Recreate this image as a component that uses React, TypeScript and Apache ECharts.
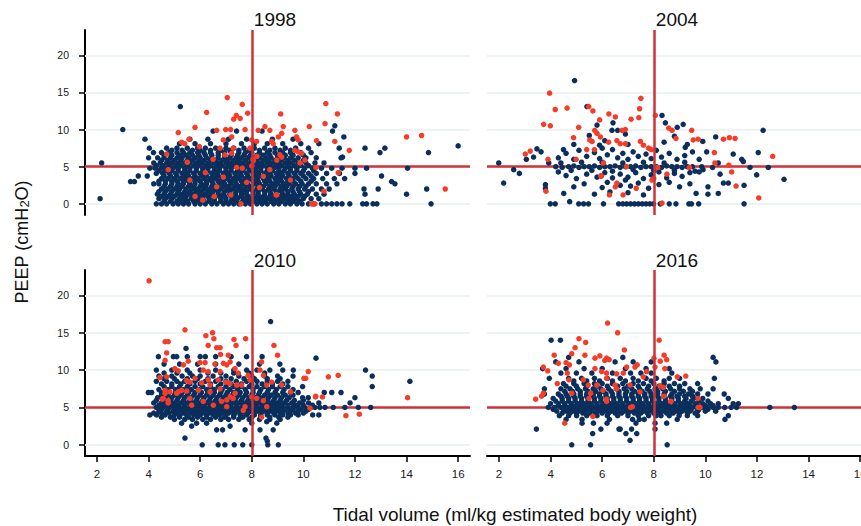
import React, { useEffect, useRef } from "react";
import * as echarts from "echarts";

type Row = [number, number[]];
type Pt = [number, number];

const panelTitles = ["1998", "2004", "2010", "2016"];
const xTicks = [2, 4, 6, 8, 10, 12, 14, 16];
const yTicks = [0, 5, 10, 15, 20];
const refX = 8;
const refY = 5;

// ---- 1998 ----
const navy1998Rows: Row[] = [
  [0, [4.3, 4.5, 4.7, 4.95, 5.15, 5.35, 5.55, 5.8, 6.0, 6.2, 6.45, 6.65, 6.9, 7.1, 7.3, 7.5, 7.75, 7.95, 8.2, 8.4, 8.6, 8.85, 9.05, 9.3, 9.5, 9.75, 9.95, 10.2, 10.4, 10.7, 10.9, 11.1, 11.3, 11.5, 11.8, 12.3, 12.45, 12.7, 12.85, 14.95]],
  [0.35, [4.6, 4.85, 5.1, 5.3, 5.5, 5.75, 5.95, 6.15, 6.35, 6.55, 6.8, 7.0, 7.2, 7.4, 7.65, 7.85, 8.05, 8.3, 8.5, 8.75, 8.95, 9.15, 9.4, 9.6, 9.85]],
  [0.7, [2.12, 4.4, 4.65, 4.9, 5.2, 5.4, 5.65, 5.9, 6.1, 6.35, 6.55, 6.8, 7.0, 7.25, 7.45, 7.7, 7.9, 8.15, 8.35, 8.6, 8.8, 9.05, 9.25, 9.5, 9.7, 10.0, 10.3, 10.6]],
  [1.0, [4.5, 4.75, 5.0, 5.25, 5.45, 5.7, 5.9, 6.1, 6.3, 6.55, 6.75, 6.95, 7.2, 7.4, 7.6, 7.85, 8.05, 8.25, 8.45, 8.7, 8.9, 9.1, 9.35, 9.55, 9.8, 10.05]],
  [1.3, [4.34, 4.6, 4.85, 5.1, 5.3, 5.55, 5.75, 6.0, 6.2, 6.45, 6.7, 6.9, 7.15, 7.35, 7.6, 7.8, 8.05, 8.25, 8.5, 8.75, 8.95, 9.2, 9.4, 9.65, 9.9, 10.15, 10.5, 10.8, 12.39, 14.0]],
  [1.65, [4.4, 4.65, 4.9, 5.15, 5.4, 5.6, 5.85, 6.05, 6.3, 6.5, 6.7, 6.95, 7.15, 7.4, 7.6, 7.8, 8.05, 8.25, 8.5, 8.7, 8.95, 9.15, 9.4, 9.6, 9.85, 10.2]],
  [2.0, [4.5, 4.75, 5.0, 5.2, 5.45, 5.7, 5.9, 6.15, 6.35, 6.6, 6.8, 7.05, 7.25, 7.5, 7.7, 7.95, 8.2, 8.4, 8.65, 8.85, 9.1, 9.3, 9.55, 9.8, 10.05, 10.35, 10.7, 11.0, 12.35, 12.9, 14.78]],
  [2.35, [4.6, 4.85, 5.1, 5.3, 5.55, 5.75, 6.0, 6.2, 6.45, 6.65, 6.9, 7.1, 7.35, 7.55, 7.8, 8.0, 8.25, 8.45, 8.7, 8.9, 9.15, 9.35, 9.6, 9.85, 10.1]],
  [2.7, [4.2, 4.4, 4.65, 4.9, 5.15, 5.35, 5.6, 5.8, 6.05, 6.25, 6.5, 6.75, 6.95, 7.2, 7.4, 7.65, 7.85, 8.1, 8.3, 8.55, 8.8, 9.0, 9.25, 9.45, 9.7, 9.95, 10.2, 10.5, 10.9, 11.3, 13.55]],
  [3.0, [3.3, 3.45, 13.42]],
  [3.05, [4.4, 4.65, 4.9, 5.1, 5.35, 5.55, 5.8, 6.0, 6.25, 6.45, 6.7, 6.9, 7.15, 7.35, 7.6, 7.8, 8.05, 8.25, 8.5, 8.7, 8.95, 9.15, 9.4, 9.6, 9.9, 10.3]],
  [3.4, [4.5, 4.75, 5.0, 5.25, 5.45, 5.7, 5.9, 6.15, 6.4, 6.6, 6.85, 7.05, 7.3, 7.5, 7.75, 7.95, 8.2, 8.45, 8.65, 8.9, 9.1, 9.35, 9.6, 9.8, 10.1, 10.4, 10.75, 11.2, 11.6]],
  [3.75, [3.6, 3.95, 4.6, 4.85, 5.1, 5.35, 5.55, 5.8, 6.05, 6.25, 6.5, 6.7, 6.95, 7.15, 7.4, 7.6, 7.85, 8.1, 8.3, 8.55, 8.75, 9.0, 9.2, 9.45, 9.7, 10.0, 10.3, 13.03]],
  [4.1, [4.3, 4.55, 4.8, 5.05, 5.3, 5.5, 5.75, 6.0, 6.2, 6.45, 6.65, 6.9, 7.1, 7.35, 7.55, 7.8, 8.05, 8.25, 8.5, 8.7, 8.95, 9.15, 9.4, 9.65, 9.9, 10.2, 10.5, 10.9, 11.4, 12.0]],
  [4.45, [4.4, 4.65, 4.9, 5.15, 5.4, 5.6, 5.85, 6.1, 6.3, 6.55, 6.75, 7.0, 7.2, 7.45, 7.65, 7.9, 8.15, 8.35, 8.6, 8.8, 9.05, 9.25, 9.5, 9.75, 10.0, 10.4]],
  [4.8, [4.05, 4.25, 4.5, 4.7, 4.95, 5.15, 5.4, 5.6, 5.85, 6.1, 6.3, 6.55, 6.75, 7.0, 7.2, 7.45, 7.7, 7.9, 8.15, 8.35, 8.6, 8.85, 9.05, 9.3, 9.5, 9.75, 10.05, 10.35, 10.7, 11.1, 11.5, 12.0, 12.45, 14.04]],
  [5.15, [4.3, 4.55, 4.8, 5.05, 5.25, 5.5, 5.75, 5.95, 6.2, 6.4, 6.65, 6.85, 7.1, 7.3, 7.55, 7.8, 8.0, 8.25, 8.45, 8.7, 8.95, 9.15, 9.4, 9.65, 9.9, 10.2]],
  [5.5, [2.18, 4.2, 4.45, 4.7, 4.9, 5.15, 5.4, 5.6, 5.85, 6.05, 6.3, 6.55, 6.75, 7.0, 7.2, 7.45, 7.65, 7.9, 8.15, 8.35, 8.6, 8.8, 9.05, 9.3, 9.5, 9.8, 10.1, 10.45, 10.8]],
  [5.85, [4.5, 4.75, 5.0, 5.25, 5.5, 5.7, 5.95, 6.15, 6.4, 6.6, 6.85, 7.05, 7.3, 7.5, 7.75, 8.0, 8.2, 8.45, 8.65, 8.9, 9.15, 9.4, 9.65, 10.0]],
  [6.2, [4.0, 4.35, 4.6, 4.85, 5.1, 5.3, 5.55, 5.8, 6.0, 6.25, 6.45, 6.7, 6.95, 7.15, 7.4, 7.6, 7.85, 8.1, 8.3, 8.55, 8.75, 9.0, 9.25, 9.5, 9.8, 10.1, 10.5, 11.46]],
  [6.55, [4.6, 4.9, 5.2, 5.45, 5.7, 5.95, 6.2, 6.45, 6.7, 6.95, 7.2, 7.45, 7.7, 7.95, 8.2, 8.45, 8.7, 9.0, 9.3, 9.6, 10.0]],
  [6.9, [4.19, 4.5, 4.8, 5.1, 5.35, 5.6, 5.9, 6.15, 6.4, 6.7, 6.95, 7.2, 7.5, 7.75, 8.0, 8.3, 8.6, 8.9, 9.2, 9.5, 9.9, 10.3, 12.97, 14.85]],
  [7.2, [4.9, 5.3, 5.7, 6.0, 6.4, 6.8, 7.15, 7.5, 7.9, 8.3, 8.7, 9.1, 9.5]],
  [7.5, [4.03, 4.7, 5.1, 5.5, 5.9, 6.2, 6.6, 7.0, 7.3, 7.7, 8.1, 8.5, 8.9, 9.3, 9.7, 10.2, 11.39, 12.39, 13.16]],
  [8.1, [5.2, 5.8, 6.4, 7.0, 7.6, 8.1, 8.6, 9.2, 9.9, 10.6]],
  [8.7, [3.86, 5.6, 6.3, 7.1, 7.8, 8.8, 9.6]],
  [9.8, [6.5, 7.41, 8.4, 11.13]],
];
const navy1998Extra: Pt[] = [[3.0, 10.0], [5.23, 13.1], [11.22, 10.5], [11.57, 9.0], [16.0, 7.8], [11.52, 6.3]];
const red1998: Pt[] = [
  [7.05, 14.3], [7.63, 13.4], [6.25, 12.3], [7.4, 11.9], [7.55, 11.5], [7.3, 11.4], [7.84, 12.2], [5.8, 10.3], [5.15, 9.6], [5.28, 8.3],
  [5.4, 8.1], [5.57, 8.7], [6.64, 9.9], [6.99, 10.0], [7.18, 10.0], [7.74, 10.0], [4.7, 6.7], [4.76, 4.6], [5.8, 1.0], [6.55, 1.0],
  [6.64, 2.3], [7.19, 1.2], [7.58, 0], [7.8, 2.9], [7.41, 4.9], [7.63, 4.8], [8.0, 5.1], [8.06, 5.8], [8.45, 3.7], [8.7, 4.6],
  [8.97, 1.2], [7.93, 7.5], [8.25, 9.9], [8.51, 10.4], [8.7, 9.9], [8.0, 8.6], [8.19, 8.4], [6.77, 7.5], [6.96, 6.6], [7.22, 6.8],
  [7.28, 7.5], [5.97, 7.7], [6.9, 8.6], [7.22, 9.0], [8.77, 8.4], [9.03, 9.0], [9.16, 9.5], [9.22, 10.4], [9.12, 12.1], [9.16, 6.3],
  [8.97, 5.9], [8.2, 6.4], [8.05, 6.0], [9.67, 9.9], [9.74, 9.0], [9.8, 8.6], [10.23, 10.4], [10.84, 10.8], [11.22, 8.4], [11.78, 7.2],
  [10.51, 8.5], [9.67, 7.2], [9.8, 7.0], [9.93, 6.8], [10.06, 5.9], [9.87, 5.5], [8.83, 8.1], [9.09, 6.6], [10.49, 4.9], [11.35, 4.2],
  [10.8, 1.7], [10.32, 0], [10.45, 0], [8.94, 1.2], [14.0, 9.0], [14.58, 9.2], [15.5, 2.0], [10.87, 13.5], [11.32, 12.1], [6.5, 6.0],
  [6.2, 4.2], [5.6, 3.2], [6.9, 3.6], [5.5, 5.6], [9.5, 3.2], [8.3, 2.2], [6.1, 0.5],
];

// ---- 2004 ----
const navy2004: Pt[] = [
  [3.99, 0], [4.18, 0], [5.09, 0], [5.28, 0], [5.47, 0], [6.05, 0], [6.64, 0], [6.8, 0], [6.95, 0], [7.1, 0], [7.25, 0], [7.4, 0], [7.55, 0],
  [7.7, 0], [7.85, 0], [7.99, 0], [8.25, 0], [8.6, 0], [8.86, 0], [9.36, 0], [9.46, 0], [9.74, 0], [11.5, 0], [4.74, 0.3],
  [4.51, 1.4], [5.7, 1.3], [6.3, 1.6], [7.0, 1.5], [7.6, 1.2], [9.64, 1.4], [10.5, 1.4], [10.1, 1.3],
  [2.18, 2.8], [3.8, 2.6], [3.8, 2.1], [4.9, 2.3], [5.3, 2.7], [6.0, 2.2], [6.2, 2.9], [6.7, 2.5], [7.1, 2.4], [7.4, 2.8], [7.8, 2.1],
  [8.2, 2.6], [8.6, 2.9], [9.0, 2.3], [10.1, 2.3], [10.7, 2.8], [10.89, 2.8], [11.5, 2.5], [9.4, 2.7],
  [2.79, 4.1], [4.6, 3.8], [5.0, 3.4], [5.4, 4.0], [5.8, 3.6], [6.1, 4.2], [6.4, 3.5], [6.7, 4.0], [7.0, 3.6], [7.3, 4.2], [7.6, 3.4],
  [7.9, 3.9], [8.2, 4.3], [8.5, 3.5], [8.8, 4.1], [9.1, 3.7], [9.4, 4.2], [9.76, 4.3], [10.57, 4.0], [11.99, 3.9], [13.05, 3.3], [4.3, 4.3], [6.9, 3.2],
  [1.99, 5.5], [2.57, 4.6], [3.93, 5.5], [4.2, 5.0], [4.45, 4.9], [4.7, 5.0], [4.9, 5.1], [5.1, 4.9], [5.3, 5.0], [5.5, 5.0], [5.7, 5.1],
  [5.9, 4.9], [6.1, 5.0], [6.3, 5.0], [6.5, 5.1], [6.7, 4.9], [6.9, 5.0], [7.1, 5.0], [7.3, 5.1], [7.5, 4.9], [7.7, 5.0], [7.9, 5.0],
  [8.1, 5.0], [8.3, 4.9], [8.5, 5.1], [8.7, 5.0], [8.9, 5.0], [9.1, 4.9], [9.3, 5.0], [9.5, 5.0], [9.86, 5.0], [9.91, 4.6], [10.28, 4.9],
  [10.5, 5.5], [11.73, 4.9], [12.44, 4.9], [4.4, 5.5], [5.2, 5.6], [6.0, 5.6], [6.8, 5.5], [7.6, 5.6], [8.4, 5.5], [9.2, 5.6],
  [4.8, 4.5], [5.6, 4.5], [6.4, 4.4], [7.2, 4.6], [8.0, 4.5], [8.8, 4.5], [9.6, 4.4],
  [3.06, 6.0], [3.34, 6.3], [3.47, 7.4], [3.63, 7.0], [4.3, 6.2], [4.6, 6.8], [4.9, 6.0], [5.1, 7.2], [5.4, 6.4], [5.7, 6.9], [5.9, 6.1],
  [6.2, 6.6], [6.4, 7.3], [6.6, 6.2], [6.8, 6.8], [7.0, 6.0], [7.2, 7.0], [7.4, 6.4], [7.7, 6.7], [7.9, 6.1], [8.1, 7.2], [8.3, 6.3],
  [8.6, 6.8], [8.9, 6.0], [9.2, 6.5], [9.5, 7.0], [9.76, 6.0], [10.05, 7.0], [11.08, 6.7], [11.41, 6.0], [11.47, 5.7], [12.05, 6.9],
  [9.22, 7.6], [4.5, 7.3], [6.0, 7.5], [4.9, 8.0], [5.9, 7.9], [6.1, 8.5], [7.0, 8.0], [8.4, 8.3], [8.8, 9.1], [9.3, 8.0], [9.9, 8.4],
  [10.4, 9.0], [5.5, 9.2], [6.9, 9.4], [6.38, 9.9], [6.6, 9.9], [4.93, 16.6], [5.41, 13.1], [5.8, 10.6], [6.42, 10.9], [8.32, 11.9],
  [8.45, 10.9], [8.91, 10.3], [9.14, 10.7], [12.24, 9.9],
];
const red2004: Pt[] = [
  [3.96, 14.9], [4.18, 12.7], [4.64, 12.9], [3.73, 10.7], [3.99, 10.5], [3.02, 6.7], [3.21, 7.1], [3.9, 6.0], [3.82, 1.7], [5.09, 10.3],
  [4.89, 8.9], [4.99, 6.0], [5.48, 13.1], [5.64, 12.5], [5.9, 11.3], [5.71, 9.9], [5.8, 9.5], [5.93, 9.0], [5.52, 8.6], [5.61, 8.4],
  [5.4, 7.3], [5.7, 7.3], [6.26, 12.1], [6.51, 11.7], [6.25, 8.3], [6.57, 8.5], [6.7, 8.1], [6.9, 8.1], [6.77, 9.9], [6.9, 10.0],
  [7.12, 11.4], [7.42, 11.6], [7.45, 12.8], [7.5, 14.2], [7.48, 8.4], [7.6, 7.9], [7.8, 7.5], [7.9, 7.3], [8.06, 11.9], [6.05, 5.5],
  [5.96, 3.7], [6.51, 2.3], [6.57, 2.8], [6.94, 5.0], [7.32, 2.1], [6.81, 1.2], [6.28, 1.2], [7.93, 3.2], [8.0, 3.4], [8.15, 4.9],
  [8.51, 4.0], [8.32, 0.1], [8.58, 10.2], [8.71, 9.9], [8.86, 8.8], [9.47, 9.9], [9.53, 8.6], [9.72, 8.7], [10.7, 8.7], [10.93, 8.9],
  [11.15, 8.8], [10.35, 6.9], [10.37, 5.5], [10.91, 5.2], [11.02, 4.3], [11.19, 2.4], [12.61, 6.4], [12.07, 0.8], [9.38, 4.9], [5.95, 3.8],
];

// ---- 2010 ----
const navy2010Rows: Row[] = [
  [0, [6.08, 6.7, 6.96, 7.32, 7.65, 8.0, 8.62, 9.03]],
  [0.9, [5.41, 8.55]],
  [0.5, [8.6]],
  [2.0, [6.64, 6.87, 7.74, 8.32, 8.83]],
  [2.5, [5.67, 7.16]],
  [2.9, [5.28, 5.86, 6.25, 8.0, 8.97]],
  [3.1, [8.58]],
  [3.4, [5.0, 5.4, 5.7, 6.1, 6.4, 6.8, 7.1, 7.5, 7.9, 8.3, 8.7, 9.1]],
  [3.7, [4.5, 4.85, 5.2, 5.55, 5.9, 6.25, 6.6, 6.95, 7.3, 7.65, 8.0, 8.35, 8.7, 9.05, 9.4]],
  [4.0, [4.05, 4.31, 4.64, 5.0, 5.22, 5.48, 5.75, 6.0, 6.25, 6.5, 6.75, 7.0, 7.3, 7.55, 7.8, 8.1, 8.35, 8.6, 8.9, 9.2, 9.5, 9.8, 10.36, 10.6]],
  [4.25, [4.2, 4.5, 4.8, 5.1, 5.35, 5.6, 5.85, 6.1, 6.35, 6.6, 6.85, 7.1, 7.35, 7.6, 7.85, 8.1, 8.35, 8.6, 8.85, 9.1, 9.4, 9.7, 10.0]],
  [4.5, [4.4, 4.7, 4.95, 5.2, 5.45, 5.7, 5.95, 6.2, 6.45, 6.7, 6.95, 7.2, 7.45, 7.7, 7.95, 8.2, 8.45, 8.7, 8.95, 9.2, 9.5, 9.8, 10.1]],
  [4.75, [4.5, 4.75, 5.05, 5.3, 5.55, 5.8, 6.05, 6.3, 6.55, 6.8, 7.05, 7.3, 7.55, 7.8, 8.05, 8.3, 8.55, 8.8, 9.05, 9.3, 9.6, 9.9, 10.2]],
  [5.0, [4.3, 4.55, 4.8, 5.0, 5.2, 5.4, 5.6, 5.8, 6.0, 6.2, 6.4, 6.6, 6.8, 7.0, 7.2, 7.4, 7.6, 7.8, 8.0, 8.2, 8.4, 8.6, 8.8, 9.0, 9.2, 9.4, 9.6, 9.8, 10.05, 10.3, 10.45, 10.64, 10.84, 11.16, 11.61, 12.13, 12.61]],
  [5.3, [4.4, 4.65, 4.9, 5.15, 5.4, 5.65, 5.9, 6.15, 6.4, 6.65, 6.9, 7.15, 7.4, 7.65, 7.9, 8.15, 8.4, 8.65, 8.9, 9.15, 9.4, 9.7, 10.0, 10.35]],
  [5.6, [4.2, 4.5, 4.75, 5.0, 5.25, 5.5, 5.75, 6.0, 6.25, 6.5, 6.75, 7.0, 7.25, 7.5, 7.75, 8.0, 8.25, 8.5, 8.75, 9.0, 9.25, 9.55, 9.85, 10.2, 10.6, 11.81]],
  [5.95, [4.3, 4.6, 4.85, 5.1, 5.35, 5.6, 5.85, 6.1, 6.35, 6.6, 6.85, 7.1, 7.35, 7.6, 7.85, 8.1, 8.35, 8.6, 8.85, 9.1, 9.35, 9.65, 10.0]],
  [6.3, [4.35, 4.65, 4.9, 5.15, 5.4, 5.65, 5.9, 6.15, 6.4, 6.65, 6.9, 7.15, 7.4, 7.65, 7.9, 8.15, 8.4, 8.65, 8.9, 9.15, 9.45, 9.97, 10.19, 12.0]],
  [6.65, [4.5, 4.75, 5.0, 5.25, 5.5, 5.75, 6.0, 6.25, 6.5, 6.75, 7.0, 7.25, 7.5, 7.75, 8.0, 8.25, 8.5, 8.75, 9.0, 9.3, 9.6]],
  [7.0, [3.99, 4.12, 4.5, 4.8, 5.05, 5.3, 5.55, 5.8, 6.05, 6.3, 6.55, 6.8, 7.05, 7.3, 7.55, 7.8, 8.05, 8.3, 8.6, 8.9, 9.2, 9.5, 9.8, 10.81, 11.1, 11.46]],
  [7.4, [4.4, 4.75, 5.05, 5.35, 5.65, 5.95, 6.25, 6.55, 6.85, 7.15, 7.45, 7.75, 8.05, 8.35, 8.65, 8.95, 9.25, 9.6]],
  [7.8, [4.6, 4.9, 5.2, 5.5, 5.8, 6.1, 6.4, 6.7, 7.0, 7.3, 7.6, 7.9, 8.2, 8.5, 8.8, 9.1, 9.4, 9.97, 12.67]],
  [8.15, [4.5, 4.9, 5.25, 5.6, 6.0, 6.4, 6.8, 7.2, 7.6, 8.0, 8.4, 8.8, 9.2]],
  [8.5, [4.3, 4.7, 5.1, 5.4, 5.8, 6.2, 6.6, 7.0, 7.4, 7.8, 8.2, 8.6, 9.0, 9.4, 14.13]],
  [8.85, [4.6, 5.0, 5.5, 5.9, 6.3, 6.8, 7.2, 7.7, 8.1, 8.6, 9.1]],
  [9.2, [4.4, 4.9, 5.3, 5.7, 6.0, 6.5, 7.0, 7.5, 8.0, 8.5, 9.0, 9.6, 12.67]],
  [9.6, [4.6, 5.1, 5.6, 6.3, 6.8, 7.3, 7.9, 8.5]],
  [10.0, [4.3, 4.9, 5.5, 6.0, 6.6, 7.3, 7.8, 8.2, 8.7, 9.2, 9.61, 12.41]],
  [10.8, [4.6, 5.2, 5.9, 6.6, 7.5, 8.3, 9.09]],
  [11.8, [4.38, 4.96, 5.09, 5.5, 6.0, 6.2, 6.6, 7.2, 7.8, 8.4]],
  [11.6, [10.49]],
  [12.9, [5.45]],
  [16.5, [8.73]],
];
const red2010: Pt[] = [
  [4.02, 21.95], [5.41, 15.4], [6.22, 14.6], [6.48, 15.0], [6.53, 14.2], [4.64, 13.8], [4.76, 13.8], [6.31, 13.3], [6.64, 13.0], [6.77, 13.0],
  [7.31, 14.1], [7.39, 13.3], [7.76, 14.2], [8.86, 13.3], [9.0, 12.0], [4.7, 12.3], [6.79, 12.1], [7.09, 12.0], [4.64, 11.3], [5.02, 10.2],
  [5.15, 9.9], [5.35, 10.7], [5.54, 11.2], [5.99, 11.0], [6.19, 11.0], [6.57, 10.8], [6.9, 10.9], [7.16, 11.1], [4.44, 9.0], [4.7, 9.1],
  [4.64, 7.3], [4.57, 6.2], [4.76, 5.9], [5.15, 7.1], [5.28, 7.3], [5.48, 8.6], [5.6, 8.4], [5.8, 8.9], [6.06, 8.3], [6.12, 10.0],
  [6.31, 9.8], [6.31, 8.7], [6.38, 8.0], [6.7, 8.7], [6.77, 9.8], [7.03, 10.7], [7.35, 10.2], [7.48, 9.6], [7.0, 8.4], [7.16, 8.2],
  [7.41, 8.0], [7.61, 8.0], [7.86, 9.3], [7.93, 8.7], [8.38, 11.1], [8.32, 10.0], [8.45, 9.3], [8.58, 8.0], [8.77, 8.4], [9.16, 8.0],
  [9.51, 7.1], [10.02, 8.9], [10.19, 9.8], [10.48, 6.5], [10.26, 4.9], [8.38, 3.7], [8.58, 5.1], [8.45, 5.9], [8.0, 6.4], [8.19, 6.2],
  [7.74, 5.1], [7.67, 4.6], [7.35, 6.9], [7.16, 6.4], [7.03, 6.0], [6.83, 5.8], [6.51, 5.3], [6.12, 5.8], [5.6, 6.2], [5.67, 5.3],
  [5.48, 7.2], [5.09, 6.9], [4.83, 7.1], [6.77, 7.5], [6.38, 7.1], [7.28, 6.2], [7.03, 5.1], [5.93, 7.3], [4.53, 6.1], [4.64, 6.9],
  [4.76, 5.6], [10.09, 8.9], [10.97, 9.1], [11.35, 9.3], [10.47, 6.4], [10.74, 6.4], [11.65, 3.9], [12.17, 4.1], [14.04, 6.3],
];

// ---- 2016 ----
const navy2016Rows: Row[] = [
  [0, [4.82, 5.55, 8.52]],
  [0.6, [7.08]],
  [1.5, [5.63, 6.92, 7.34]],
  [2.1, [3.45, 5.95, 6.65, 6.7, 7.14, 8.05]],
  [2.9, [5.22, 5.66, 6.19, 7.31, 8.05, 8.5]],
  [3.4, [4.6, 5.22, 6.28, 7.18, 7.44, 7.63, 8.91, 10.76]],
  [3.9, [4.34, 4.7, 5.01, 5.4, 5.8, 6.2, 6.6, 7.0, 7.4, 7.8, 8.09, 8.28, 8.6, 8.98, 9.3, 9.7, 10.89]],
  [4.25, [4.45, 4.75, 5.0, 5.25, 5.5, 5.75, 6.0, 6.25, 6.5, 6.75, 7.0, 7.25, 7.5, 7.75, 8.0, 8.25, 8.5, 8.75, 9.0, 9.3, 9.6]],
  [4.5, [4.24, 4.6, 4.85, 5.1, 5.35, 5.6, 5.85, 6.1, 6.35, 6.6, 6.85, 7.1, 7.35, 7.6, 7.85, 8.1, 8.35, 8.6, 8.85, 9.1, 9.4, 9.7, 10.0, 10.4]],
  [4.75, [4.1, 4.5, 4.75, 5.0, 5.2, 5.4, 5.6, 5.8, 6.0, 6.2, 6.4, 6.6, 6.8, 7.0, 7.2, 7.4, 7.6, 7.8, 8.0, 8.2, 8.4, 8.6, 8.8, 9.0, 9.2, 9.45, 9.75, 10.1]],
  [5.0, [3.91, 4.15, 4.4, 4.65, 4.9, 5.1, 5.3, 5.5, 5.7, 5.9, 6.1, 6.3, 6.5, 6.7, 6.9, 7.1, 7.3, 7.5, 7.7, 7.9, 8.1, 8.3, 8.5, 8.7, 8.9, 9.1, 9.3, 9.5, 9.66, 9.9, 10.1, 10.3, 10.5, 10.75, 11.0, 11.21, 12.5, 13.45]],
  [5.25, [4.3, 4.55, 4.8, 5.0, 5.2, 5.4, 5.6, 5.8, 6.0, 6.2, 6.4, 6.6, 6.8, 7.0, 7.2, 7.4, 7.6, 7.8, 8.0, 8.2, 8.4, 8.6, 8.8, 9.0, 9.2, 9.4, 9.7, 10.0, 10.3]],
  [5.5, [4.0, 4.3, 4.55, 4.8, 5.05, 5.3, 5.55, 5.8, 6.05, 6.3, 6.55, 6.8, 7.05, 7.3, 7.55, 7.8, 8.05, 8.3, 8.55, 8.8, 9.05, 9.3, 9.6, 9.9, 10.2, 10.5, 11.08, 11.28]],
  [5.85, [4.2, 4.45, 4.7, 4.95, 5.2, 5.45, 5.7, 5.95, 6.2, 6.45, 6.7, 6.95, 7.2, 7.45, 7.7, 7.95, 8.2, 8.45, 8.7, 8.95, 9.2, 9.45, 9.75, 10.1]],
  [6.2, [4.1, 4.45, 4.7, 4.95, 5.2, 5.45, 5.7, 5.95, 6.2, 6.45, 6.7, 6.95, 7.2, 7.45, 7.7, 7.95, 8.2, 8.45, 8.7, 8.95, 9.25, 9.55, 9.9, 10.89]],
  [6.5, [4.4, 4.65, 4.9, 5.15, 5.4, 5.65, 5.9, 6.15, 6.4, 6.65, 6.9, 7.15, 7.4, 7.65, 7.9, 8.15, 8.4, 8.65, 8.9, 9.2, 9.5]],
  [6.8, [3.76, 4.3, 4.6, 4.9, 5.15, 5.4, 5.65, 5.9, 6.15, 6.4, 6.65, 6.9, 7.15, 7.4, 7.65, 7.9, 8.15, 8.4, 8.7, 9.0, 9.35, 9.7, 10.1, 10.73]],
  [7.15, [4.55, 4.85, 5.15, 5.45, 5.75, 6.05, 6.35, 6.65, 6.95, 7.25, 7.55, 7.85, 8.15, 8.45, 8.8, 9.15, 9.5]],
  [7.5, [3.76, 4.4, 4.75, 5.05, 5.35, 5.65, 5.95, 6.25, 6.55, 6.85, 7.15, 7.45, 7.75, 8.05, 8.35, 8.65, 9.0, 9.4, 9.8, 10.3]],
  [7.85, [4.6, 5.0, 5.4, 5.8, 6.2, 6.6, 7.0, 7.4, 7.8, 8.2, 8.6, 9.0]],
  [8.2, [4.5, 4.9, 5.3, 5.7, 6.0, 6.4, 6.8, 7.2, 7.6, 8.0, 8.4, 8.8, 9.2, 9.7]],
  [8.55, [4.9, 5.4, 5.9, 6.4, 6.9, 7.4, 7.9, 8.4]],
  [8.9, [3.95, 4.7, 5.2, 5.7, 6.2, 6.7, 7.2, 7.7, 8.1, 8.6, 9.0, 10.35]],
  [9.6, [4.4, 5.0, 5.6, 6.4, 7.1, 7.5, 7.9, 8.7]],
  [10.2, [3.69, 4.6, 5.3, 6.0, 6.9, 7.7, 8.6]],
  [11.1, [4.2, 5.1, 6.5, 7.2, 7.9, 10.41]],
  [11.7, [4.7, 6.8, 10.3]],
  [14.0, [4.02, 4.38]],
];
const red2016: Pt[] = [
  [6.21, 16.3], [6.6, 15.0], [5.1, 14.2], [5.36, 13.7], [4.95, 13.0], [4.82, 12.2], [4.14, 12.0], [5.33, 12.0], [6.86, 12.7], [8.21, 14.0],
  [8.01, 11.6], [8.25, 11.2], [8.4, 12.0], [8.5, 11.4], [8.43, 10.2], [8.05, 10.4], [8.91, 9.1], [9.24, 9.2], [3.72, 10.4], [3.89, 9.9],
  [4.3, 10.9], [4.6, 11.0], [4.73, 10.7], [5.72, 11.6], [5.91, 11.9], [6.1, 11.3], [6.17, 11.6], [6.27, 11.4], [4.65, 9.6], [4.71, 8.7],
  [4.26, 8.2], [5.72, 10.2], [5.98, 9.8], [6.17, 9.6], [6.56, 9.5], [6.82, 9.6], [6.95, 10.4], [7.27, 10.4], [7.36, 10.7], [7.59, 9.1],
  [7.72, 9.8], [5.27, 8.7], [5.46, 8.0], [5.79, 8.0], [6.17, 8.9], [6.5, 8.0], [6.56, 7.5], [7.08, 8.0], [7.47, 7.1], [8.24, 7.9],
  [8.37, 7.7], [8.4, 6.5], [8.65, 5.8], [4.82, 6.9], [5.49, 6.2], [5.55, 6.9], [6.03, 7.3], [6.17, 5.8], [6.17, 6.1], [7.1, 5.0],
  [3.42, 6.1], [3.65, 6.5], [4.55, 2.9], [5.64, 3.8], [9.72, 5.0], [9.72, 6.2], [3.72, 6.9], [7.17, 5.1], [8.67, 5.8], [9.79, 5.0],
];

function rowsToPoints(rows: Row[]): Pt[] {
  const out: Pt[] = [];
  for (const [y, xs] of rows) for (const x of xs) out.push([x, y]);
  return out;
}

const panelNavy: Pt[][] = [
  rowsToPoints(navy1998Rows).concat(navy1998Extra),
  navy2004,
  rowsToPoints(navy2010Rows),
  rowsToPoints(navy2016Rows),
];
const panelRed: Pt[][] = [red1998, red2004, red2010, red2016];

const FONT = "'Liberation Sans', Arial, Helvetica, sans-serif";
const NAVY = "#0b2f5c";
const RED_PT = "#f53c29";
const RED_LINE = "#cf3339";
const GRID_LINE = "#edf3f1";

const gridBoxes = [
  { left: 85, top: 30, width: 385, height: 185 },
  { left: 487, top: 30, width: 385, height: 185 },
  { left: 85, top: 270, width: 385, height: 186 },
  { left: 487, top: 270, width: 385, height: 186 },
];
const titlePos = [
  [275, 19],
  [677, 19],
  [275, 260],
  [677, 260],
];

export default function App() {
  const ref = useRef<HTMLDivElement>(null);
  useEffect(() => {
    if (!ref.current) return;
    const chart = echarts.init(ref.current, null, { renderer: "svg" });
    const xAxes: any[] = [];
    const yAxes: any[] = [];
    const series: any[] = [];
    const lineMark = (data: any[], color: string, width: number, z: number) => ({
      silent: true,
      z,
      symbol: ["none", "none"],
      label: { show: false },
      emphasis: { disabled: true },
      lineStyle: { color, width, type: "solid", opacity: 1 },
      data,
    });
    for (let i = 0; i < 4; i++) {
      const showX = i >= 2;
      const showY = i % 2 === 0;
      xAxes.push({
        type: "value",
        gridIndex: i,
        min: 1.535,
        max: 16.46,
        show: showX,
        axisLine: { show: true, onZero: false, lineStyle: { color: "#000", width: 2 } },
        axisTick: { show: true, length: 6, customValues: xTicks, lineStyle: { color: "#000", width: 1.5 } },
        axisLabel: { show: true, customValues: xTicks, margin: 12, fontSize: 11.5, color: "#1a1a1a", fontFamily: FONT },
        splitLine: { show: false },
      });
      yAxes.push({
        type: "value",
        gridIndex: i,
        min: -1.5,
        max: 23.4,
        show: showY,
        axisLine: { show: true, onZero: false, lineStyle: { color: "#000", width: 2 } },
        axisTick: { show: true, length: 6, customValues: yTicks, lineStyle: { color: "#000", width: 1.5 } },
        axisLabel: { show: true, customValues: yTicks, margin: 16, fontSize: 10.5, color: "#1a1a1a", fontFamily: FONT },
        splitLine: { show: false },
      });
      series.push({
        type: "scatter", xAxisIndex: i, yAxisIndex: i, data: [], z: 1, silent: true,
        markLine: lineMark(yTicks.map((v) => ({ yAxis: v })), GRID_LINE, 2, 1),
      });
      series.push({
        type: "scatter", xAxisIndex: i, yAxisIndex: i, data: [], z: 2, silent: true,
        markLine: lineMark([{ yAxis: refY }], RED_LINE, 2.5, 2),
      });
      series.push({
        type: "scatter", xAxisIndex: i, yAxisIndex: i, z: 3, silent: true,
        symbol: "circle", symbolSize: 5.5,
        itemStyle: { color: NAVY, opacity: 1 },
        data: panelNavy[i],
      });
      series.push({
        type: "scatter", xAxisIndex: i, yAxisIndex: i, z: 4, silent: true,
        symbol: "circle", symbolSize: 5.5,
        itemStyle: { color: RED_PT, opacity: 1 },
        data: panelRed[i],
      });
      series.push({
        type: "scatter", xAxisIndex: i, yAxisIndex: i, data: [], z: 5, silent: true,
        markLine: lineMark([{ xAxis: refX }], RED_LINE, 2.5, 5),
      });
    }
    const graphics: any[] = panelTitles.map((t, i) => ({
      type: "text",
      x: titlePos[i][0],
      y: titlePos[i][1],
      style: { text: t, align: "center", verticalAlign: "middle", fontSize: 19, fontFamily: FONT, fill: "#111" },
    }));
    graphics.push({
      type: "text",
      x: 515,
      y: 514,
      style: {
        text: "Tidal volume (ml/kg estimated body weight)",
        align: "center",
        verticalAlign: "middle",
        fontSize: 19,
        fontFamily: FONT,
        fill: "#111",
      },
    });
    graphics.push({
      type: "text",
      x: 20,
      y: 242,
      rotation: Math.PI / 2,
      style: {
        text: "{n|PEEP (cmH}{s|2}{n|O)}",
        align: "center",
        verticalAlign: "middle",
        rich: {
          n: { fontSize: 18, fontFamily: FONT, fill: "#111", lineHeight: 22, verticalAlign: "bottom" },
          s: { fontSize: 13, fontFamily: FONT, fill: "#111", lineHeight: 22, verticalAlign: "bottom" },
        },
      },
    });
    chart.setOption({
      animation: false,
      backgroundColor: "#ffffff",
      grid: gridBoxes.map((g) => ({ ...g, containLabel: false, outerBoundsMode: "none" })),
      xAxis: xAxes,
      yAxis: yAxes,
      series,
      graphic: graphics,
    });
    return () => chart.dispose();
  }, []);
  return (
    <div
      ref={ref}
      style={{ position: "absolute", left: 0, top: 0, width: 861, height: 526, background: "#fff" }}
    />
  );
}
